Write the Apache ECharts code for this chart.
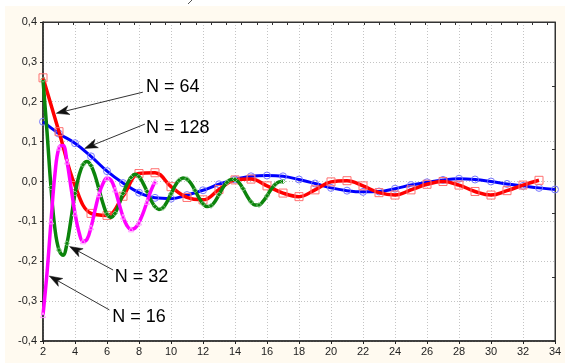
<!DOCTYPE html>
<html><head><meta charset="utf-8">
<script src="https://cdn.jsdelivr.net/npm/echarts@6/dist/echarts.min.js"></script>
<style>html,body{margin:0;padding:0;background:#fff}#c{width:565px;height:363px}</style>
</head><body><div id="c"></div>
<script>
// ---- axes ----
const xMin = 2, xMax = 34, xStep = 2;
const yMin = -0.4, yMax = 0.4, yStep = 0.1;

// ---- N = 128 (blue) ----
const blueX = [2,3,4,5,6,7,8,9,10,11,12,13,14,15,16,17,18,19,20,21,22,23,24,25,26,27,28,29,30,31,32,33,34];
const blueY = [0.150,0.120,0.096,0.063,0.026,-0.004,-0.028,-0.041,-0.043,-0.034,-0.022,-0.007,0.005,0.013,0.015,0.013,0.005,-0.005,-0.016,-0.023,-0.026,-0.025,-0.018,-0.009,-0.002,0.004,0.007,0.005,0.000,-0.006,-0.011,-0.016,-0.020];

// ---- N = 64 (red) ----
const redX = [2,3,4,5,6,7,8,9,10,11,12,13,14,15,16,17,18,19,20,21,22,23,24,25,26,27,28,29,30,31,32,33];
const redY = [0.260,0.125,-0.010,-0.080,-0.085,-0.037,0.020,0.022,-0.013,-0.040,-0.046,-0.020,0.004,0.006,-0.011,-0.029,-0.038,-0.021,-0.001,0.002,-0.011,-0.028,-0.034,-0.021,-0.007,0.000,-0.009,-0.025,-0.034,-0.023,-0.009,0.003];

// ---- N = 32 (green) ----
const greenX = [2,2.25,2.5,2.75,3,3.25,3.5,3.75,4,4.25,4.5,4.75,5,5.25,5.5,5.75,6,6.25,6.5,6.75,7,7.25,7.5,7.75,8,8.25,8.5,8.75,9,9.25,9.5,9.75,10,10.25,10.5,10.75,11,11.25,11.5,11.75,12,12.25,12.5,12.75,13,13.25,13.5,13.75,14,14.25,14.5,14.75,15,15.25,15.5,15.75,16,16.25,16.5,16.75,17];
const greenY = [0.255,0.125,-0.015,-0.120,-0.172,-0.185,-0.155,-0.095,-0.030,0.015,0.042,0.050,0.040,0.015,-0.020,-0.055,-0.082,-0.090,-0.080,-0.057,-0.030,-0.007,0.010,0.018,0.012,-0.004,-0.025,-0.047,-0.063,-0.070,-0.066,-0.051,-0.031,-0.011,0.003,0.009,0.006,-0.005,-0.022,-0.041,-0.056,-0.063,-0.061,-0.050,-0.033,-0.015,-0.002,0.005,0.005,-0.003,-0.018,-0.036,-0.051,-0.059,-0.059,-0.050,-0.036,-0.020,-0.008,-0.001,0.000];

// ---- N = 16 (magenta) ----
const magX = [2,2.25,2.5,2.75,3,3.25,3.5,3.75,4,4.25,4.5,4.75,5,5.25,5.5,5.75,6,6.25,6.5,6.75,7,7.25,7.5,7.75,8,8.25,8.5,8.75,9];
const magY = [-0.335,-0.230,-0.100,0.020,0.085,0.090,0.050,-0.015,-0.080,-0.127,-0.150,-0.145,-0.115,-0.072,-0.032,-0.005,0.009,0.004,-0.020,-0.055,-0.088,-0.111,-0.120,-0.117,-0.103,-0.080,-0.051,-0.023,0.000];

// ---- annotations (data coords) ----
const annTexts = ['N = 64','N = 128','N = 32','N = 16'];
const annTextPos = [[8.43,0.237],[8.43,0.134],[6.49,-0.239],[6.33,-0.340]];
const annArrowFrom = [[8.24,0.224],[8.37,0.144],[6.38,-0.222],[6.15,-0.322]];
const annArrowTo = [[2.83,0.171],[4.60,0.083],[3.66,-0.163],[2.39,-0.237]];

function pairs(xs, ys){ return xs.map((x,i)=>[x, ys[i]]); }
function sparse(xs, ys, sym){
  return xs.map((x,i)=>({value:[x, ys[i]], symbol: (i % 2 === 0) ? sym : 'none'}));
}
function fmt(v){ return (Math.round(v*10)/10).toFixed(1).replace('.', ','); }

const chart = echarts.init(document.getElementById('c'), null, {renderer:'canvas'});
const font = 'Arial, "Liberation Sans", sans-serif';

const baseGraphic = [
  {id:'w1', type:'rect', shape:{x:0,y:0,width:565,height:6}, style:{fill:'#ffffff'}, silent:true},
  {id:'w2', type:'rect', shape:{x:0,y:0,width:5,height:363}, style:{fill:'#ffffff'}, silent:true},
  {id:'w3', type:'line', shape:{x1:188,y1:4,x2:192,y2:0}, style:{stroke:'#555',lineWidth:1}, silent:true}
];

chart.setOption({
  animation: false,
  backgroundColor: '#fffaf0',
  graphic: baseGraphic,
  grid: {left:43, right:10, top:22, bottom:22, show:true, backgroundColor:'#ffffff', borderColor:'#333', borderWidth:1},
  xAxis: [{
    type:'value', min:xMin, max:xMax, interval:xStep, position:'bottom',
    axisLine:{show:true, onZero:false, lineStyle:{color:'#222', width:1.5}},
    axisTick:{show:true, inside:false, length:3, lineStyle:{color:'#222'}},
    axisLabel:{color:'#222', fontSize:11, fontFamily:font, margin:5},
    splitLine:{show:true, lineStyle:{color:'#c4c4c4', width:1, type:[1,2]}}
  },{
    type:'value', min:0, max:33.5, interval:1, position:'top',
    axisLine:{show:true, onZero:false, lineStyle:{color:'#333', width:1}},
    axisTick:{show:true, inside:true, length:3, lineStyle:{color:'#333'}},
    axisLabel:{show:false}, splitLine:{show:false}
  }],
  yAxis: [{
    type:'value', min:yMin, max:yMax, interval:yStep, position:'left',
    axisLine:{show:true, onZero:false, lineStyle:{color:'#222', width:1.5}},
    axisTick:{show:true, inside:false, length:3, lineStyle:{color:'#222'}},
    axisLabel:{color:'#222', fontSize:11, fontFamily:font, margin:6, formatter:fmt},
    splitLine:{show:true, lineStyle:{color:'#c4c4c4', width:1, type:[1,2]}}
  },{
    type:'value', min:0, max:5, interval:1, position:'right',
    axisLine:{show:true, onZero:false, lineStyle:{color:'#333', width:1}},
    axisTick:{show:true, inside:true, length:3, lineStyle:{color:'#333'}},
    axisLabel:{show:false}, splitLine:{show:false}
  }],
  series: [
    {
      name:'N = 128', type:'line', smooth:0.4, data:pairs(blueX, blueY),
      symbol:'circle', symbolSize:7, showAllSymbol:true,
      lineStyle:{color:'#0000ff', width:3},
      itemStyle:{color:'rgba(0,0,0,0)', borderColor:'#7878ff', borderWidth:1},
      z:2
    },
    {
      name:'N = 64', type:'line', smooth:0.4, data:pairs(redX, redY),
      symbol:'rect', symbolSize:8, showAllSymbol:true,
      lineStyle:{color:'#ff0000', width:3.5},
      itemStyle:{color:'rgba(0,0,0,0)', borderColor:'#ff7070', borderWidth:1},
      z:3
    },
    {
      name:'N = 32', type:'line', smooth:0.4, data:sparse(greenX, greenY, 'diamond'),
      symbolSize:5, showAllSymbol:true,
      lineStyle:{color:'#0b840b', width:3.5},
      itemStyle:{color:'rgba(0,0,0,0)', borderColor:'#7cc07c', borderWidth:1},
      z:4
    },
    {
      name:'N = 16', type:'line', smooth:0.4, data:sparse(magX, magY, 'triangle'),
      symbolSize:5, showAllSymbol:true,
      lineStyle:{color:'#ff00ff', width:3.5},
      itemStyle:{color:'rgba(0,0,0,0)', borderColor:'#ff9cff', borderWidth:1},
      z:5,
      markPoint:{
        silent:true,
        data: annTexts.map((t,i)=>({
          coord: annTextPos[i], symbol:'circle', symbolSize:0,
          label:{show:true, position:'right', distance:0, formatter:t, color:'#000', fontSize:18, fontFamily:font}
        }))
      }
    }
  ]
});

// arrows (positions converted from data coordinates)
const arrowEls = [];
annArrowFrom.forEach((f, i) => {
  const p1 = chart.convertToPixel({xAxisIndex:0, yAxisIndex:0}, f);
  const p2 = chart.convertToPixel({xAxisIndex:0, yAxisIndex:0}, annArrowTo[i]);
  const dx = p2[0]-p1[0], dy = p2[1]-p1[1];
  const len = Math.sqrt(dx*dx+dy*dy);
  const ux = dx/len, uy = dy/len, nx = -uy, ny = ux;
  const L = 13, W = 4.5, notch = 3.5;
  const bx = p2[0]-ux*L, by = p2[1]-uy*L;
  const mx = p2[0]-ux*(L-notch), my = p2[1]-uy*(L-notch);
  arrowEls.push({id:'al'+i, type:'line', z:100, silent:true,
    shape:{x1:p1[0], y1:p1[1], x2:mx, y2:my}, style:{stroke:'#333', lineWidth:1}});
  arrowEls.push({id:'ah'+i, type:'polygon', z:100, silent:true,
    shape:{points:[[p2[0],p2[1]],[bx+nx*W,by+ny*W],[mx,my],[bx-nx*W,by-ny*W]]},
    style:{fill:'#111', stroke:'#111', lineWidth:0.5}});
});
chart.setOption({graphic: baseGraphic.concat(arrowEls)});
</script>
</body></html>
